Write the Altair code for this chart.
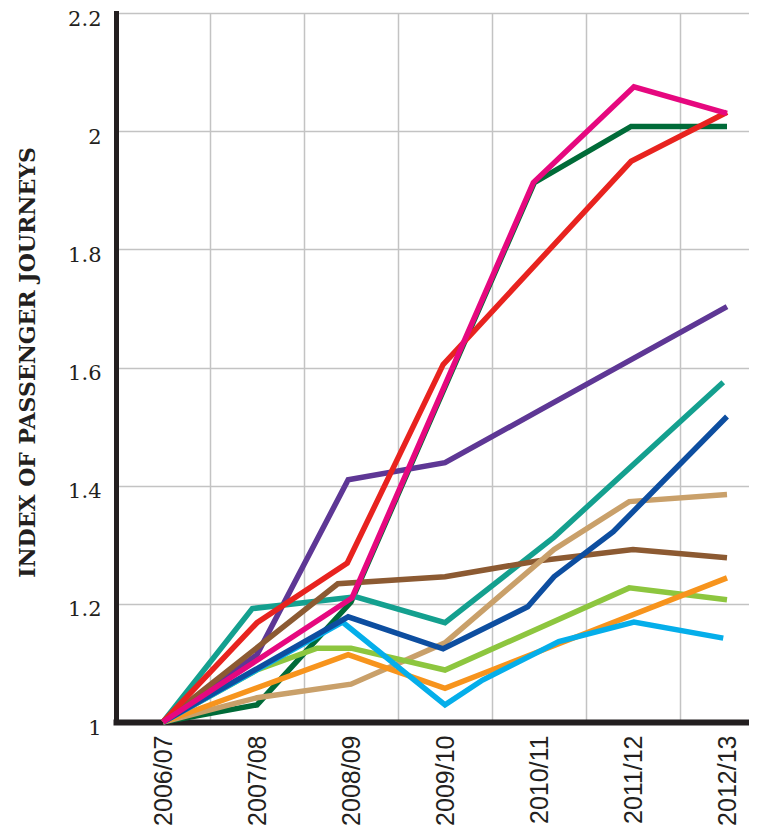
import json
import altair as alt
import pandas as pd

categories = ["2006/07", "2007/08", "2008/09", "2009/10", "2010/11", "2011/12", "2012/13"]

# draw order: first = bottom
series_names = ["Dark green", "Purple", "Teal", "Brown", "Tan", "Light green",
                "Orange", "Light blue", "Dark blue", "Red", "Pink"]
series_colors = ["#006b38", "#5e3795", "#14a08f", "#8c5a32", "#c9a06a", "#8dc63f",
                 "#f7941d", "#05aeea", "#0d4ea0", "#e8231f", "#e6087f"]

dark_green_x = [0, 1, 2, 3.95, 4.98, 6]
dark_green_y = [1.0, 1.029, 1.203, 1.913, 2.008, 2.008]
purple_x = [0, 1, 1.97, 3.0, 4, 6]
purple_y = [1.0, 1.114, 1.41, 1.439, 1.527, 1.703]
teal_x = [0, 0.95, 2.05, 3, 4.16, 5.96]
teal_y = [1.0, 1.192, 1.212, 1.168, 1.313, 1.575]
brown_x = [0, 1.86, 3, 4, 5, 6]
brown_y = [1.0, 1.234, 1.246, 1.273, 1.292, 1.278]
tan_x = [0, 1, 2, 3, 4.16, 4.96, 6]
tan_y = [1.0, 1.041, 1.064, 1.134, 1.292, 1.373, 1.385]
light_green_x = [0, 1, 1.64, 2, 3, 4.96, 6]
light_green_y = [1.0, 1.088, 1.125, 1.125, 1.088, 1.227, 1.207]
orange_x = [0, 1.97, 3, 6]
orange_y = [1.0, 1.114, 1.057, 1.244]
light_blue_x = [0, 1.91, 3, 3.4, 4.21, 5.01, 5.96]
light_blue_y = [1.0, 1.169, 1.029, 1.071, 1.136, 1.169, 1.142]
dark_blue_x = [0, 1.97, 2.98, 3.88, 4.16, 4.79, 6]
dark_blue_y = [1.0, 1.178, 1.124, 1.195, 1.246, 1.322, 1.517]
red_x = [0, 1, 1.96, 2.98, 4.98, 6]
red_y = [1.0, 1.168, 1.269, 1.605, 1.949, 2.032]
pink_x = [0, 2.01, 3.94, 5.01, 6]
pink_y = [1.0, 1.21, 1.913, 2.075, 2.03]

y_ticks = [1.0, 1.2, 1.4, 1.6, 1.8, 2.0, 2.2]

series_data = [
    (dark_green_x, dark_green_y), (purple_x, purple_y), (teal_x, teal_y),
    (brown_x, brown_y), (tan_x, tan_y), (light_green_x, light_green_y),
    (orange_x, orange_y), (light_blue_x, light_blue_y), (dark_blue_x, dark_blue_y),
    (red_x, red_y), (pink_x, pink_y),
]

rows = []
for name, (xs, ys) in zip(series_names, series_data):
    for k, (xv, yv) in enumerate(zip(xs, ys)):
        rows.append({"series": name, "pos": xv, "val": yv, "k": k})
df = pd.DataFrame(rows)

W = 633
H = 709
unit = 94.0
x_min = -0.5
x_max = x_min + W / unit
ink = "#231f20"

x_enc = alt.X(
    "pos:Q",
    scale=alt.Scale(domain=[x_min, x_max], nice=False, zero=False),
    axis=alt.Axis(
        values=list(range(len(categories))),
        labelExpr=json.dumps(categories) + "[datum.value]",
        tickOffset=unit / 2,
        labelOffset=-unit / 2,
        grid=True, gridColor="#c3c3c3", gridWidth=1.5,
        ticks=False,
        labelAngle=-90, labelFont="Liberation Sans", labelFontSize=25,
        labelColor=ink, labelPadding=13, labelFlush=False, labelOverlap=False,
        domainColor=ink, domainWidth=6, domainCap="square",
        title=None,
    ),
)
y_enc = alt.Y(
    "val:Q",
    scale=alt.Scale(domain=[1.0, 2.2], nice=False, zero=False),
    axis=alt.Axis(
        values=y_ticks,
        labelExpr="format(datum.value, '~g')",
        grid=True, gridColor="#c3c3c3", gridWidth=1.5,
        ticks=False,
        labelFont="DejaVu Serif", labelFontSize=21, labelColor=ink,
        labelPadding=15, labelOffset=6, labelFlush=False, labelOverlap=False,
        domainColor=ink, domainWidth=5, domainCap="square",
        title="INDEX OF PASSENGER JOURNEYS",
        titleFont="DejaVu Serif", titleFontSize=22, titleFontWeight="bold",
        titleColor=ink, titleX=-89, titleY=349, titleBaseline="middle",
    ),
)
color_enc = alt.Color(
    "series:N",
    scale=alt.Scale(domain=series_names, range=series_colors),
    legend=None,
)

base = alt.Chart(df).mark_line(strokeWidth=5.5, strokeCap="butt").encode(
    x=x_enc, y=y_enc, color=color_enc, order=alt.Order("k:Q")
)

layers = [base.transform_filter(alt.datum.series == n) for n in series_names]

chart = alt.layer(*layers).properties(
    width=W,
    height=H,
    autosize=alt.AutoSizeParams(type="none"),
    padding={"left": 108, "top": 5, "right": 0, "bottom": 104},
    background="white",
).configure_view(stroke="transparent")

chart.save("out.html", embed_options={"renderer": "svg", "actions": False})
